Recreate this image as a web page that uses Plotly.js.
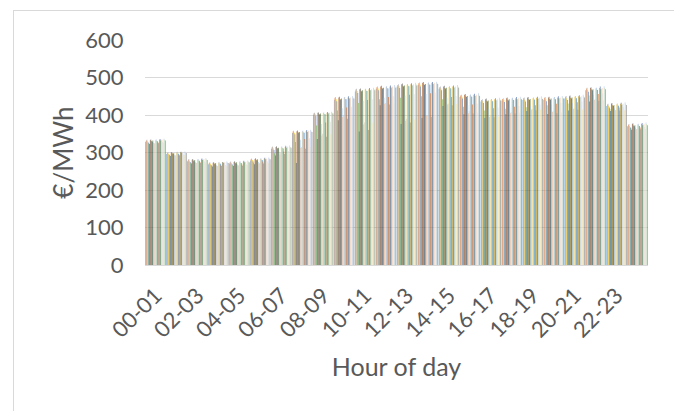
<!DOCTYPE html>
<html>
<head>
<meta charset="utf-8">
<script src="https://cdn.plot.ly/plotly-3.0.1.min.js"></script>
<style>
  html, body { margin: 0; padding: 0; background: #ffffff; overflow: hidden; }
  #chart { position: absolute; left: 0; top: 0; width: 674px; height: 411px; }
  #frame { position: absolute; left: 13px; top: 10px; width: 700px; height: 430px;
           border: 1px solid #d9d9d9; pointer-events: none; }
</style>
</head>
<body>
<div id="chart"></div>
<div id="frame"></div>
<script>
// Hour-of-day categories
const hours = ["00-01","01-02","02-03","03-04","04-05","05-06","06-07","07-08","08-09","09-10","10-11","11-12",
               "12-13","13-14","14-15","15-16","16-17","17-18","18-19","19-20","20-21","21-22","22-23","23-24"];
const tickLabels = ["00-01","02-03","04-05","06-07","08-09","10-11","12-13","14-15","16-17","18-19","20-21","22-23"];

// Daily price series (€/MWh), one per day, values per hour
const day01 = [329,296,277,269,271,279,310,352,401,441,463,470,476,480,470,448,436,439,440,441,444,466,424,370];
const day02 = [332,299,281,272,274,283,314,356,405,446,468,474,480,485,474,452,440,443,445,446,449,471,428,374];
const day03 = [334,301,283,274,276,284,316,358,406,448,470,476,482,487,476,454,442,445,447,448,451,473,430,376];
const day04 = [330,297,278,270,272,280,311,353,402,442,464,471,477,481,471,449,437,440,441,442,445,467,425,371];
const day05 = [327,294,275,267,269,277,307,349,398,437,459,466,472,476,466,444,432,435,436,437,440,462,420,367];
const day06 = [325,292,273,265,266,273,298,328,372,412,432,442,446,450,442,422,412,417,421,426,431,452,416,366];
const day07 = [323,291,271,263,264,269,292,272,336,386,356,426,376,392,424,402,392,402,411,403,412,436,411,361];
const day08 = [333,300,281,273,275,283,315,357,406,447,469,476,482,486,476,454,442,445,446,447,450,472,430,376];
const day09 = [335,301,283,274,277,285,317,359,407,449,471,478,484,488,478,456,444,447,448,449,452,474,432,378];
const day10 = [331,298,279,271,273,281,312,354,403,443,465,472,478,482,472,450,438,441,442,443,446,468,426,372];
const day11 = [329,296,277,269,271,279,310,352,401,441,463,470,476,480,470,448,436,439,440,441,444,466,424,370];
const day12 = [332,299,280,272,274,282,313,355,404,444,466,473,479,483,473,451,439,442,443,444,447,469,427,373];
const day13 = [326,293,274,266,268,275,302,334,376,418,438,446,452,456,446,426,416,420,424,428,432,454,418,366];
const day14 = [324,292,272,264,265,270,295,312,345,395,375,430,385,398,428,405,395,405,414,408,416,440,413,362];
const day15 = [325,293,273,265,266,272,300,315,350,400,380,432,390,400,430,410,398,408,416,410,418,442,414,363];
const day16 = [333,300,281,273,275,283,314,356,405,446,468,475,481,485,475,453,441,444,445,446,449,471,429,375];
const day17 = [335,302,283,275,277,285,316,358,407,448,470,477,483,487,477,455,443,446,447,448,451,473,431,377];
const day18 = [331,298,279,271,273,281,312,354,403,443,465,472,478,482,472,450,438,441,442,443,446,468,426,372];
const day19 = [330,297,278,270,272,280,311,353,402,442,464,471,477,481,471,449,437,440,441,442,445,467,425,371];
const day20 = [327,294,275,266,268,276,303,336,380,420,440,448,454,458,448,428,418,422,426,430,434,456,420,367];
const day21 = [325,292,272,264,265,271,296,310,342,390,360,428,380,395,426,404,394,404,413,405,414,438,412,362];
const day22 = [334,301,282,274,276,284,315,357,406,447,469,476,482,486,476,454,442,445,446,447,450,472,430,376];
const day23 = [336,302,284,275,278,286,318,360,408,450,472,479,485,488,479,457,445,448,449,450,453,476,433,379];
const day24 = [332,299,280,272,274,282,313,355,404,444,466,473,479,483,473,451,439,442,443,444,447,469,427,373];
const day25 = [333,300,281,273,275,283,314,356,405,445,467,474,480,484,474,452,440,443,444,445,448,470,428,374];
const day26 = [335,301,283,274,276,284,316,358,406,447,469,476,482,486,476,454,442,445,446,447,450,472,430,376];
const day27 = [328,295,276,267,269,277,304,338,382,422,442,450,456,460,450,430,420,424,428,432,436,458,421,368];
const day28 = [326,293,273,265,266,272,297,314,348,396,378,431,388,400,429,406,396,406,415,407,415,439,413,363];
const day29 = [337,303,285,276,279,287,319,361,409,451,473,480,486,489,480,458,446,449,450,451,454,477,434,380];
const day30 = [334,301,282,274,276,284,315,357,406,447,469,476,482,486,476,454,442,445,446,447,450,472,430,376];
const day31 = [332,299,280,272,274,282,313,355,404,444,466,473,479,483,473,451,439,442,443,444,447,469,427,373];

const days = [day01,day02,day03,day04,day05,day06,day07,day08,day09,day10,day11,day12,day13,day14,day15,day16,
              day17,day18,day19,day20,day21,day22,day23,day24,day25,day26,day27,day28,day29,day30,day31];

const palette = ["#5B9BD5","#ED7D31","#A5A5A5","#FFC000","#4472C4","#70AD47",
                 "#255E91","#9E480E","#636363","#997300","#264478","#43682B",
                 "#9DC3E6","#F4B183","#C9C9C9","#FFD966","#8FAADC","#A9D18E",
                 "#327DC2","#D26012","#848484","#CC9A00","#3A5FA6","#5A8A39",
                 "#BDD7EE","#F8CBAD","#DBDBDB","#FFE699","#B4C7E7","#C5E0B4","#7F7F7F"];

function hexA(hex, a) {
  const r = parseInt(hex.slice(1,3),16), g = parseInt(hex.slice(3,5),16), b = parseInt(hex.slice(5,7),16);
  return `rgba(${r},${g},${b},${a})`;
}

const traces = days.map((vals, i) => ({
  type: "bar",
  name: "Day " + (i + 1),
  x: hours,
  y: vals,
  marker: { color: hexA(palette[i % palette.length], 0.85), line: { width: 0 } },
  hoverinfo: "skip"
}));

const layout = {
  width: 674, height: 411,
  margin: { l: 145, r: 26, t: 40, b: 146 },
  paper_bgcolor: "#ffffff", plot_bgcolor: "#ffffff",
  font: { family: "Lato, 'Open Sans', sans-serif", color: "#595959" },
  showlegend: false,
  barmode: "group",
  bargap: 0.03,
  bargroupgap: 0,
  xaxis: {
    type: "category",
    categoryorder: "array", categoryarray: hours,
    tickmode: "array", tickvals: tickLabels, ticktext: tickLabels,
    tickangle: -45,
    tickfont: { size: 22, color: "#595959" },
    ticks: "outside", ticklen: 8, tickcolor: "rgba(0,0,0,0)",
    showline: true, linecolor: "#d9d9d9", linewidth: 1,
    showgrid: false, zeroline: false,
    title: { text: "Hour of day", font: { size: 25, color: "#595959" }, standoff: 16 }
  },
  yaxis: {
    range: [0, 600], dtick: 100, tick0: 0,
    tickfont: { size: 22, color: "#595959" },
    ticks: "outside", ticklen: 16, tickcolor: "rgba(0,0,0,0)",
    showgrid: true, gridcolor: "#d9d9d9", gridwidth: 1,
    zeroline: false, showline: false,
    title: { text: "€/MWh", font: { size: 26, color: "#595959" }, standoff: 4 }
  }
};

Plotly.newPlot("chart", traces, layout, { staticPlot: true, displayModeBar: false });
</script>
</body>
</html>
